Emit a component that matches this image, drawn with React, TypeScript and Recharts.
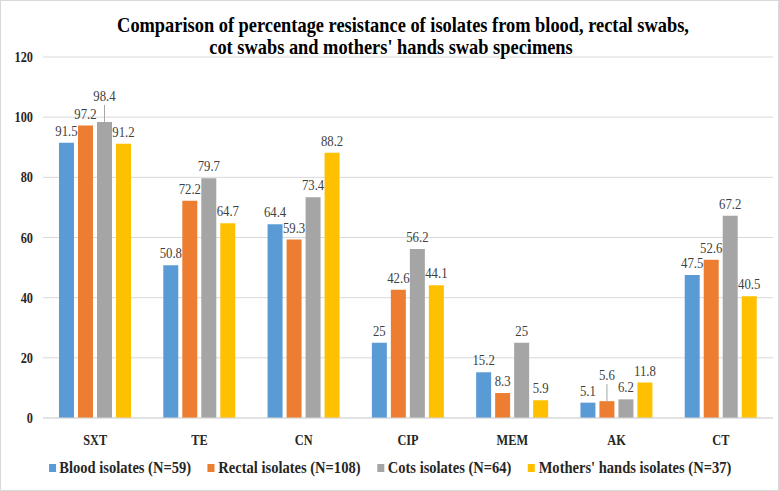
import React from "react";
import { BarChart, Bar, XAxis, YAxis, CartesianGrid, Legend, LabelList } from "recharts";

const categories = ["SXT", "TE", "CN", "CIP", "MEM", "AK", "CT"];
const blood = [91.5, 50.8, 64.4, 25, 15.2, 5.1, 47.5];
const rectal = [97.2, 72.2, 59.3, 42.6, 8.3, 5.6, 52.6];
const cots = [98.4, 79.7, 73.4, 56.2, 25, 6.2, 67.2];
const mothers = [91.2, 64.7, 88.2, 44.1, 5.9, 11.8, 40.5];
const yTicks = [0, 20, 40, 60, 80, 100, 120];

const series = [
  { key: "blood", name: "Blood isolates (N=59)", color: "#5B9BD5", values: blood },
  { key: "rectal", name: "Rectal isolates (N=108)", color: "#ED7D31", values: rectal },
  { key: "cots", name: "Cots isolates (N=64)", color: "#A5A5A5", values: cots },
  { key: "mothers", name: "Mothers' hands isolates (N=37)", color: "#FFC000", values: mothers },
];

// labels pushed up with a leader line
const lifted: Record<string, number[]> = { cots: [0], rectal: [5] };

const data = categories.map((c, i) => {
  const row: Record<string, string | number> = { cat: c };
  series.forEach((s) => (row[s.key] = s.values[i]));
  return row;
});

const SERIF = "Liberation Serif, serif";
const SX = 0.88;

function makeLabel(key: string) {
  return (props: any) => {
    const { x, y, width, value, index } = props;
    const cx = x + width / 2;
    const up = (lifted[key] || []).includes(index);
    const ty = up ? y - 21 : y - 7;
    return (
      <g>
        {up && <line x1={cx} x2={cx} y1={y} y2={y - 17} stroke="#a6a6a6" strokeWidth={1} />}
        <text
          transform={`translate(${cx},${ty}) scale(${SX},1)`}
          textAnchor="middle"
          fontFamily={SERIF}
          fontSize={14.5}
          fill="#404040"
        >
          {value}
        </text>
      </g>
    );
  };
}

function XTick(props: any) {
  const { x, y, payload } = props;
  return (
    <text
      transform={`translate(${x},${y + 19}) scale(${SX},1)`}
      textAnchor="middle"
      fontFamily={SERIF}
      fontWeight={700}
      fontSize={14}
      fill="#262626"
    >
      {payload.value}
    </text>
  );
}

function YTick(props: any) {
  const { y, payload } = props;
  return (
    <text
      transform={`translate(32,${y + 5}) scale(${SX},1)`}
      textAnchor="end"
      fontFamily={SERIF}
      fontWeight={700}
      fontSize={14}
      fill="#262626"
    >
      {payload.value}
    </text>
  );
}

function LegendContent() {
  return (
    <div
      style={{
        display: "flex",
        justifyContent: "center",
        whiteSpace: "nowrap",
        transform: `scaleX(${SX})`,
        transformOrigin: "393px 0",
        fontFamily: SERIF,
        fontWeight: 700,
        fontSize: 16.5,
        lineHeight: "20px",
        color: "#262626",
      }}
    >
      {series.map((s, i) => (
        <span key={s.key} style={{ display: "flex", alignItems: "center", marginRight: i < series.length - 1 ? 19 : 0 }}>
          <span style={{ width: 8, height: 8, background: s.color, marginRight: 4, display: "inline-block" }} />
          {s.name}
        </span>
      ))}
    </div>
  );
}

const titleLine = (text: string, center: number, top: number) => (
  <div
    style={{
      position: "absolute",
      left: center - 500,
      top,
      width: 1000,
      textAlign: "center",
      whiteSpace: "nowrap",
      transform: "scaleX(0.875)",
      fontFamily: SERIF,
      fontWeight: 700,
      fontSize: 21,
      lineHeight: "22px",
      color: "#000",
      zIndex: 2,
    }}
  >
    {text}
  </div>
);

export default function App() {
  return (
    <div style={{ position: "absolute", left: 0, top: 0, width: 779, height: 491, background: "#fff", border: "1px solid #d9d9d9", boxSizing: "border-box", overflow: "hidden" }}>
      {titleLine("Comparison of percentage resistance of isolates from blood, rectal swabs,", 402, 13)}
      {titleLine("cot swabs and mothers' hands swab specimens", 390, 35)}
      <BarChart
        width={777}
        height={489}
        data={data}
        margin={{ top: 56, right: 5, left: 0, bottom: 10 }}
        barSize={15}
        barGap={4}
      >
        <CartesianGrid vertical={false} stroke="#d9d9d9" />
        <XAxis dataKey="cat" height={40} tickLine={false} axisLine={{ stroke: "#d9d9d9" }} tick={<XTick />} />
        <YAxis width={42} domain={[0, 120]} ticks={yTicks} tickLine={false} axisLine={false} tick={<YTick />} />
        <Legend
          verticalAlign="bottom"
          height={22}
          content={<LegendContent />}
          wrapperStyle={{ top: 457, left: 0, width: 777, height: 22 }}
        />
        {series.map((s) => (
          <Bar key={s.key} dataKey={s.key} name={s.name} fill={s.color} isAnimationActive={false}>
            <LabelList dataKey={s.key} content={makeLabel(s.key)} />
          </Bar>
        ))}
      </BarChart>
    </div>
  );
}
